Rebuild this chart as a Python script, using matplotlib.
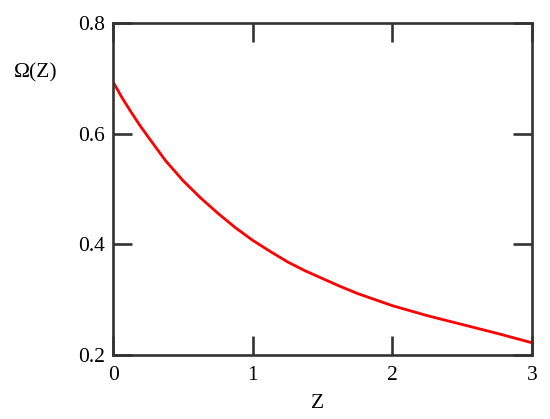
import matplotlib
matplotlib.use("Agg")
import matplotlib.pyplot as plt

# Values
z_values = [0.0, 0.0625, 0.125, 0.1875, 0.25, 0.375, 0.5, 0.625, 0.75, 0.875, 1.0,
            1.125, 1.25, 1.375, 1.5, 1.625, 1.75, 1.875, 2.0, 2.25, 2.5, 2.75, 3.0]
omega_values = [0.693, 0.665, 0.640, 0.616, 0.594, 0.551, 0.515, 0.484, 0.456,
                0.430, 0.407, 0.387, 0.368, 0.352, 0.338, 0.324, 0.311, 0.300,
                0.289, 0.271, 0.255, 0.239, 0.222]

x_ticks = [0, 1, 2, 3]
y_ticks = [0.2, 0.4, 0.6, 0.8]
y_tick_labels = ["0.2", "0.4", "0.6", "0.8"]

plt.rcParams['font.family'] = ['Liberation Serif', 'DejaVu Serif']

fig = plt.figure(figsize=(5.5, 4.19), dpi=100)
ax = fig.add_axes([0.206, 0.153, 0.761, 0.792])

ax.plot(z_values, omega_values, color='red', linewidth=2.0,
        solid_joinstyle='round', solid_capstyle='round')

ax.set_xlim(0, 3)
ax.set_ylim(0.2, 0.8)
ax.set_xticks(x_ticks)
ax.set_yticks(y_ticks)
ax.set_yticklabels(y_tick_labels)

# Mathcad-style frame: inward ticks on every side
for side in ax.spines.values():
    side.set_linewidth(1.9)
    side.set_color('#333333')
ax.tick_params(direction='in', length=14, width=1.9, color='#333333',
               top=True, right=True, labelsize=15.5)
ax.tick_params(axis='x', pad=8)
ax.tick_params(axis='y', pad=6)

fig.text(0.065, 0.826, "Ω(Z)", fontsize=15.5, ha='center', va='center')
fig.text(0.578, 0.038, "Z", fontsize=15.5, ha='center', va='center')

fig.savefig("out.png", dpi=100)
